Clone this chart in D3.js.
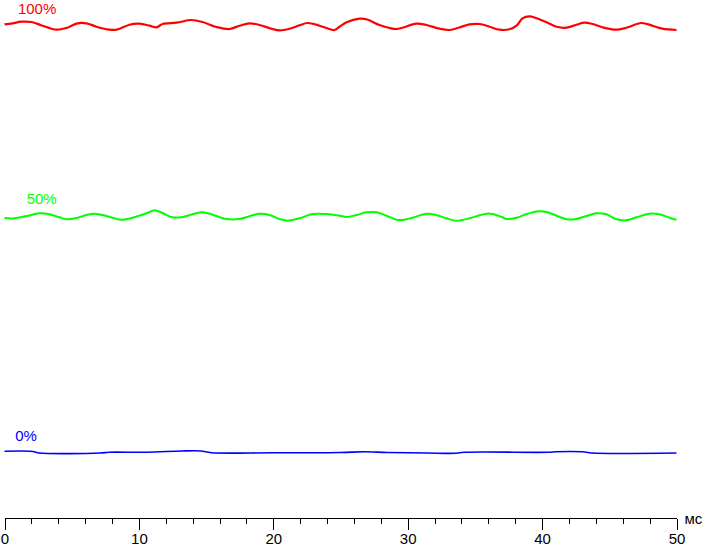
<!DOCTYPE html>
<html lang="ru">
<head>
<meta charset="UTF-8">
<title>Яркость: 0%, 50%, 100%</title>
<script src="https://d3js.org/d3.v7.min.js"></script>
<style>
  body, html { margin: 0; padding: 0; background: #fff; }
  svg { display: block; }
  text { font-family: "Liberation Sans", Arial, sans-serif; }
</style>
</head>
<body>
<div id="chart"></div>
<script>
// time in ms, brightness in relative units
const tickMajor = [0, 10, 20, 30, 40, 50];
const tickMinor = d3.range(0, 51, 2);
const unitLabel = "мс";

const seriesNames = ["100%", "50%", "0%"];

const red100 = [
  [0, 98.94], [0.60, 99.14], [1.26, 99.46], [2.01, 99.4], [2.83, 98.66], [3.87, 97.86],
  [4.61, 98.2], [5.43, 99.14], [6.10, 99.14], [6.85, 98.46], [7.81, 97.86], [8.33, 97.86],
  [9.30, 98.86], [10.04, 99.06], [10.79, 98.66], [11.31, 98.34], [11.76, 99.0], [12.80, 99.26],
  [13.91, 99.8], [14.73, 99.4], [15.77, 98.4], [16.74, 98.0], [17.49, 98.65], [18.23, 99.14],
  [18.97, 98.8], [19.94, 98.0], [20.46, 97.74], [21.21, 98.06], [21.95, 98.74], [22.54, 99.2],
  [23.44, 98.66], [24.18, 98.0], [24.55, 97.8], [24.93, 98.46], [25.45, 99.34], [26.41, 100.06],
  [26.93, 99.94], [27.90, 98.8], [28.65, 98.2], [29.17, 98.0], [29.61, 98.26], [30.65, 99.06],
  [31.40, 98.8], [32.37, 98.06], [33.11, 97.8], [33.85, 98.3], [34.60, 98.94], [35.34, 99.0],
  [36.09, 98.46], [36.83, 97.86], [37.57, 97.94], [38.10, 98.66], [38.54, 100.14], [39.06, 100.54],
  [39.58, 100.14], [40.33, 99.34], [41.07, 98.46], [41.82, 98.26], [42.56, 98.86], [43.15, 99.26],
  [43.75, 99.0], [44.49, 98.34], [45.54, 97.86], [46.28, 98.26], [47.40, 99.2], [48.21, 98.66],
  [48.96, 98.06], [50, 97.8]
];

const green50 = [
  [0, 60.2], [0.74, 60.14], [1.64, 60.6], [2.60, 61.14], [3.35, 60.94], [4.09, 60.34],
  [4.61, 59.94], [5.36, 60.2], [6.10, 60.8], [6.70, 61.06], [7.29, 60.8], [8.04, 60.26],
  [8.71, 59.86], [9.52, 60.26], [10.57, 61.14], [11.16, 61.74], [11.76, 61.2], [12.50, 60.34],
  [13.24, 60.4], [13.99, 60.94], [14.73, 61.34], [15.48, 60.86], [16.52, 60.0], [17.49, 60.0],
  [18.23, 60.54], [18.97, 61.06], [19.72, 60.8], [20.46, 60.0], [21.06, 59.66], [21.95, 60.14],
  [22.92, 61.0], [23.96, 61.0], [24.93, 60.66], [25.45, 60.4], [26.19, 60.8], [26.93, 61.34],
  [27.68, 61.34], [28.42, 60.66], [29.17, 59.86], [29.61, 59.8], [30.36, 60.26], [31.40, 61.06],
  [32.14, 60.8], [32.89, 60.14], [33.63, 59.66], [34.60, 60.14], [35.34, 60.74], [35.86, 61.06],
  [36.31, 61.0], [37.05, 60.34], [37.35, 60.0], [38.10, 60.26], [38.84, 61.0], [39.81, 61.54],
  [40.33, 61.4], [41.07, 60.66], [41.82, 59.94], [42.41, 59.94], [43.30, 60.6], [44.05, 61.14],
  [44.79, 60.94], [45.54, 59.94], [46.28, 59.74], [47.02, 60.34], [47.99, 61.06], [48.73, 60.94],
  [49.48, 60.26], [50, 59.86]
];

const blue0 = [
  [0, 13.55], [2.1, 13.5], [2.6, 13.2], [7.1, 13.2], [7.8, 13.35], [10.6, 13.35],
  [13.2, 13.6], [14.6, 13.6], [15.4, 13.25], [20, 13.25], [25, 13.3], [26.8, 13.45],
  [28.5, 13.3], [31.4, 13.2], [33.6, 13.15], [34.2, 13.35], [40.5, 13.35], [41.0, 13.45],
  [43.0, 13.45], [43.7, 13.2], [50, 13.2]
];

const width = 703, height = 546;
const svg = d3.select("#chart").append("svg")
  .attr("width", width)
  .attr("height", height);

const x = d3.scaleLinear().domain([0, 50]).range([4.5, 676.5]);
const y = d3.scaleLinear().domain([0, 100]).range([519, 19]);

const series = [
  { name: seriesNames[0], values: red100, color: "#ff0000", labelX: 1.0, labelDy: -10.5, width: 2.2 },
  { name: seriesNames[1], values: green50, color: "#00ff00", labelX: 1.65, labelDy: -14, width: 2 },
  { name: seriesNames[2], values: blue0, color: "#0000ff", labelX: 0.8, labelDy: -10, width: 1.6 }
];

const line = d3.line()
  .x(d => x(d[0]))
  .y(d => y(d[1]))
  .curve(d3.curveCatmullRom.alpha(0.5));

svg.selectAll(".trace")
  .data(series)
  .enter()
  .append("path")
  .attr("class", "trace")
  .attr("fill", "none")
  .attr("stroke", d => d.color)
  .attr("stroke-width", d => d.width)
  .attr("d", d => line(d.values));

svg.selectAll(".trace-label")
  .data(series)
  .enter()
  .append("text")
  .attr("class", "trace-label")
  .attr("x", d => x(d.labelX))
  .attr("y", d => y(d.values[0][1]) + d.labelDy)
  .attr("fill", d => d.color)
  .attr("font-size", 15)
  .text(d => d.name);

// axis: minor ticks every 2 ms, major every 10 ms
const axisY = 518.5;
const minorAxis = d3.axisBottom(x).tickValues(tickMinor).tickSize(5).tickFormat("");
const majorAxis = d3.axisBottom(x).tickValues(tickMajor).tickSize(11).tickPadding(4).tickFormat(d3.format("d"));

const gMinor = svg.append("g").attr("transform", `translate(0,${axisY})`).call(minorAxis);
const gMajor = svg.append("g").attr("transform", `translate(0,${axisY})`).call(majorAxis);

[gMinor, gMajor].forEach(g => {
  g.selectAll("path, line").attr("stroke", "#000").attr("shape-rendering", "crispEdges");
  g.select(".domain").attr("d", `M${x(0)},0H${x(50)}`);
});
gMajor.selectAll("text")
  .attr("font-size", 15)
  .attr("font-family", "'Liberation Sans', Arial, sans-serif")
  .attr("fill", "#000");

svg.append("text")
  .attr("x", x(50) + 8)
  .attr("y", axisY + 5)
  .attr("font-size", 15)
  .attr("fill", "#000")
  .text(unitLabel);
</script>
</body>
</html>
